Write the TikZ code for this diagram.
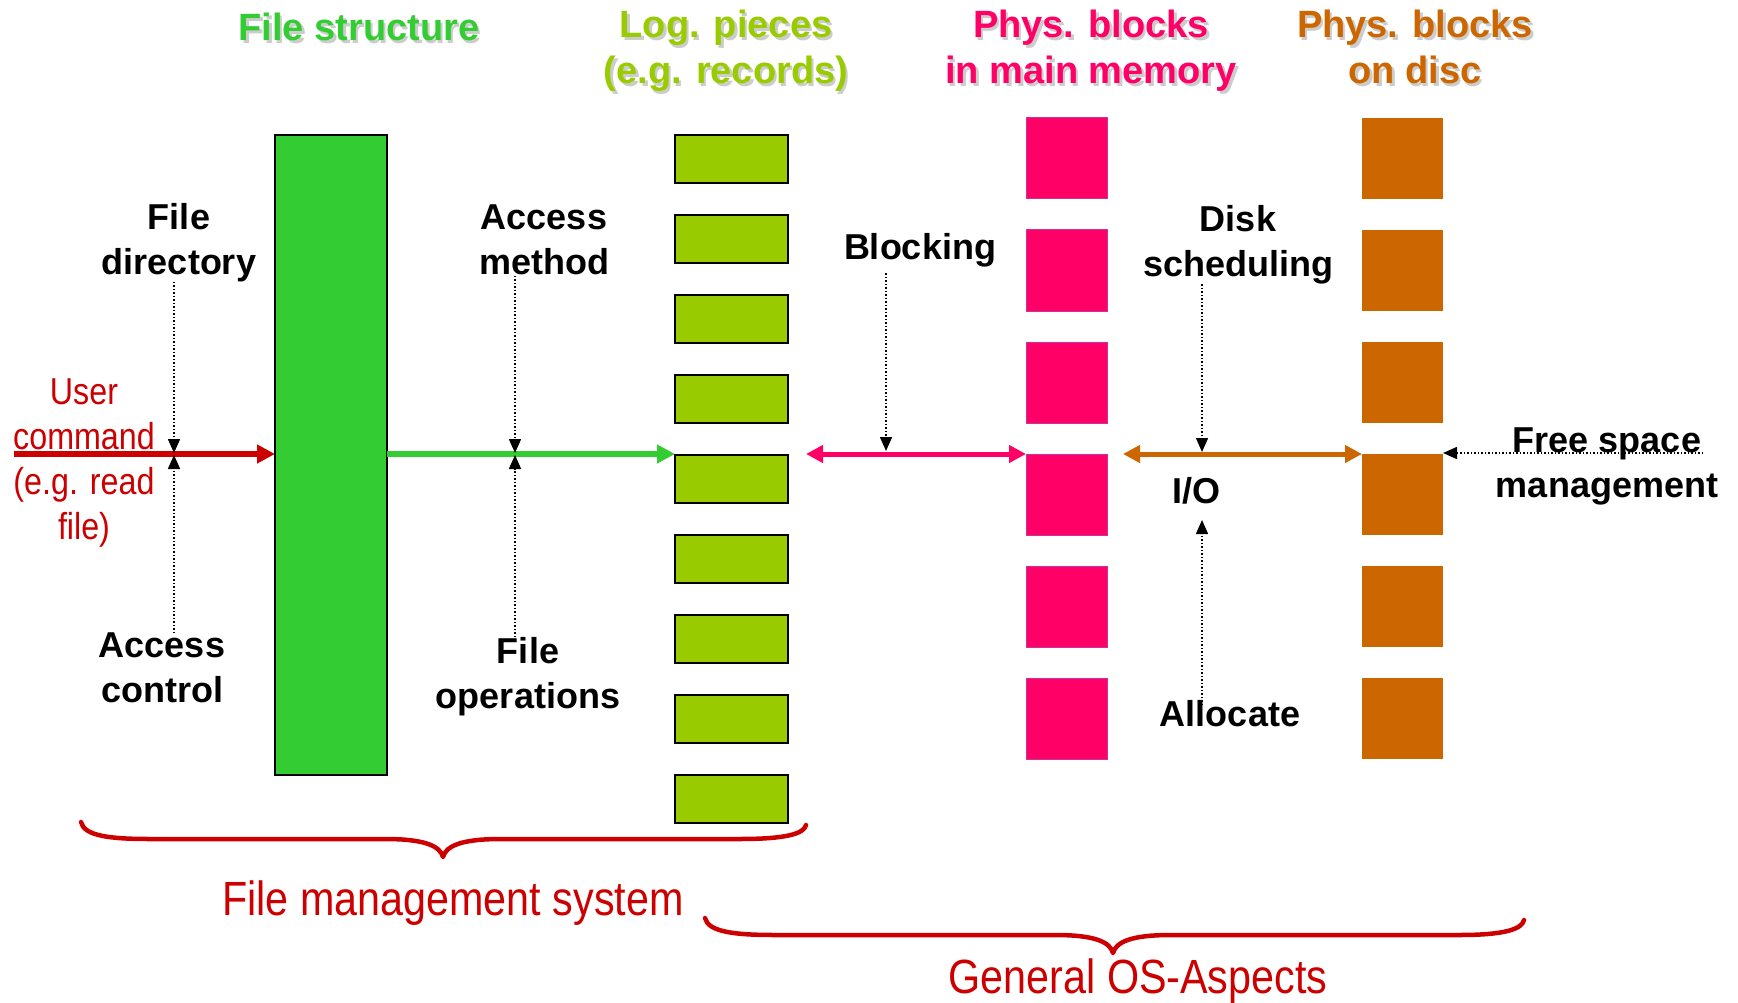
\documentclass[tikz,border=0pt]{standalone}
\usepackage{fontspec}
\setmainfont{Liberation Sans}
\newfontfamily\narrowfont[FakeStretch=0.86]{Liberation Sans}
\usetikzlibrary{arrows.meta}
\definecolor{fsgreen}{HTML}{33CC33}
\definecolor{lpgreen}{HTML}{99CC00}
\definecolor{mmpink}{HTML}{FF0066}
\definecolor{pinkedge}{HTML}{CC3399}
\definecolor{discorange}{HTML}{CC6600}
\definecolor{fmred}{HTML}{CC0000}
\newcommand\shadowtxt[1]{\leavevmode\rlap{\kern2.5pt\raisebox{-2.5pt}{\textcolor{black!20}{#1}}}#1}
\begin{document}
\begin{tikzpicture}[x=1pt,y=-1pt,
  titletxt/.style={font=\fontsize{38}{46}\selectfont\bfseries, align=center, inner sep=0pt, anchor=north},
  lbl/.style={font=\fontsize{36}{45}\selectfont\bfseries, align=center, inner sep=0pt, anchor=north},
  redlbl/.style={font=\narrowfont\fontsize{37.5}{45}\selectfont, text=fmred, align=center, inner sep=0pt, anchor=north},
  bigred/.style={font=\narrowfont\fontsize{48}{56}\selectfont, text=fmred, inner sep=0pt, anchor=base},
  fsbar/.style={draw=black, line width=2pt, fill=fsgreen, inner sep=0pt, outer sep=0pt, anchor=north west, minimum width=112pt, minimum height=640pt},
  logbox/.style={draw=black, line width=2.5pt, fill=lpgreen, inner sep=0pt, outer sep=0pt, anchor=north west, minimum width=113pt, minimum height=48pt},
  membox/.style={draw=pinkedge, line width=1pt, fill=mmpink, inner sep=0pt, outer sep=0pt, anchor=north west, minimum width=81pt, minimum height=81pt},
  discbox/.style={fill=discorange, inner sep=0pt, outer sep=0pt, anchor=north west, minimum width=81pt, minimum height=81pt},
  thickarrow/.style={line width=5.5pt, -{Triangle[length=18pt,width=18pt]}},
  dblarrow/.style={line width=5pt, {Triangle[length=17pt,width=17pt]}-{Triangle[length=17pt,width=17pt]}},
  dotarrow/.style={draw=black, line width=1.5pt, dash pattern=on 1.5pt off 2pt, -{Triangle[length=14pt,width=12pt]}},
  bracepath/.style={draw=fmred, line width=4.5pt, line cap=round, line join=round}
]
\useasboundingbox (0,0) rectangle (1738,1003);

% titles
\node[titletxt, text=fsgreen] (tfs) at (359,13) {\shadowtxt{File structure}};
\node[titletxt, text=lpgreen] (tlp) at (726,10) {\shadowtxt{Log. pieces}\\\shadowtxt{(e.g. records)}};
\node[titletxt, text=mmpink] (tmm) at (1091,10) {\shadowtxt{Phys. blocks}\\\shadowtxt{in main memory}};
\node[titletxt, text=discorange] (tdk) at (1415,10) {\shadowtxt{Phys. blocks}\\\shadowtxt{on disc}};

% file structure bar
\node[fsbar] (bar) at (275,135) {};

% logical pieces
\foreach \k in {0,...,8} {
  \node[logbox] (lp\k) at (675,{135+80*\k}) {};
}
% main memory blocks
\foreach \k in {0,...,5} {
  \node[membox] (mm\k) at (1026,{118+112*\k}) {};
}
% disc blocks
\foreach \k in {0,...,5} {
  \node[discbox] (dk\k) at (1362,{118+112*\k}) {};
}

% labels
\node[lbl] (filedir) at (179,203) {File\\directory};
\node[lbl] (accmeth) at (544,205) {Access\\method};
\node[lbl] (blocking) at (920,233) {Blocking};
\node[lbl] (disksch) at (1238,205) {Disk\\scheduling};
\node[lbl] (io) at (1196,477) {I/O};
\node[lbl] (freesp) at (1607,428) {Free space\\management};
\node[lbl] (alloc) at (1230,700) {Allocate};
\node[lbl] (accctl) at (162,633) {Access\\control};
\node[lbl] (fileops) at (528,637) {File\\operations};
\node[redlbl] (usercmd) at (84,378) {User\\command\\(e.g. read\\file)};

\node[bigred] (fms) at (453,915) {File management system};
\node[bigred] (gos) at (1138,993) {General OS-Aspects};

% main flow
\coordinate (ucstart) at (14,454);
\draw[thickarrow, draw=fmred, fill=fmred] (ucstart) -- (ucstart -| bar.west);
\draw[thickarrow, draw=fsgreen, fill=fsgreen] (ucstart -| bar.east) -- (ucstart -| lp4.west);
\draw[dblarrow, draw=mmpink, fill=mmpink] ([xshift=18pt]ucstart -| lp4.east) -- (ucstart -| mm3.west);
\draw[dblarrow, draw=discorange, fill=discorange] ([xshift=16pt]ucstart -| mm3.east) -- (ucstart -| dk3.west);

% dotted annotations
\coordinate (ud) at (174,453);
\coordinate (uu) at (174,455);
\draw[dotarrow] (ud |- filedir.south) -- (ud);
\draw[dotarrow] (uu |- accctl.north) -- (uu);
\coordinate (amd) at (515,453);
\coordinate (amu) at (515,455);
\draw[dotarrow] (amd |- accmeth.south) -- (amd);
\draw[dotarrow] (amu |- fileops.north) -- (amu);
\coordinate (bl) at (886,451);
\draw[dotarrow] ([yshift=-6pt]bl |- blocking.south) -- (bl);
\coordinate (ds) at (1202,452);
\draw[dotarrow] (ds |- disksch.south) -- (ds);
\coordinate (al) at (1202,520);
\draw[dotarrow] ([yshift=-5pt]al |- alloc.north) -- (al);
\coordinate (fsend) at (1703,453);
\draw[dotarrow] (fsend) -- (fsend -| dk3.east);

% braces
\draw[bracepath] (81,822) .. controls (84,836) and (110,839) .. (150,839) -- (385,839)
  .. controls (425,839) and (440,846) .. (443,857)
  .. controls (446,846) and (461,839) .. (501,839) -- (740,839)
  .. controls (785,839) and (804,834) .. (806,825);
\draw[bracepath] (705,918) .. controls (708,932) and (735,935) .. (775,935) -- (1055,935)
  .. controls (1095,935) and (1110,942) .. (1113,953)
  .. controls (1116,942) and (1131,935) .. (1171,935) -- (1460,935)
  .. controls (1505,935) and (1522,929) .. (1524,920);
\end{tikzpicture}
\end{document}
